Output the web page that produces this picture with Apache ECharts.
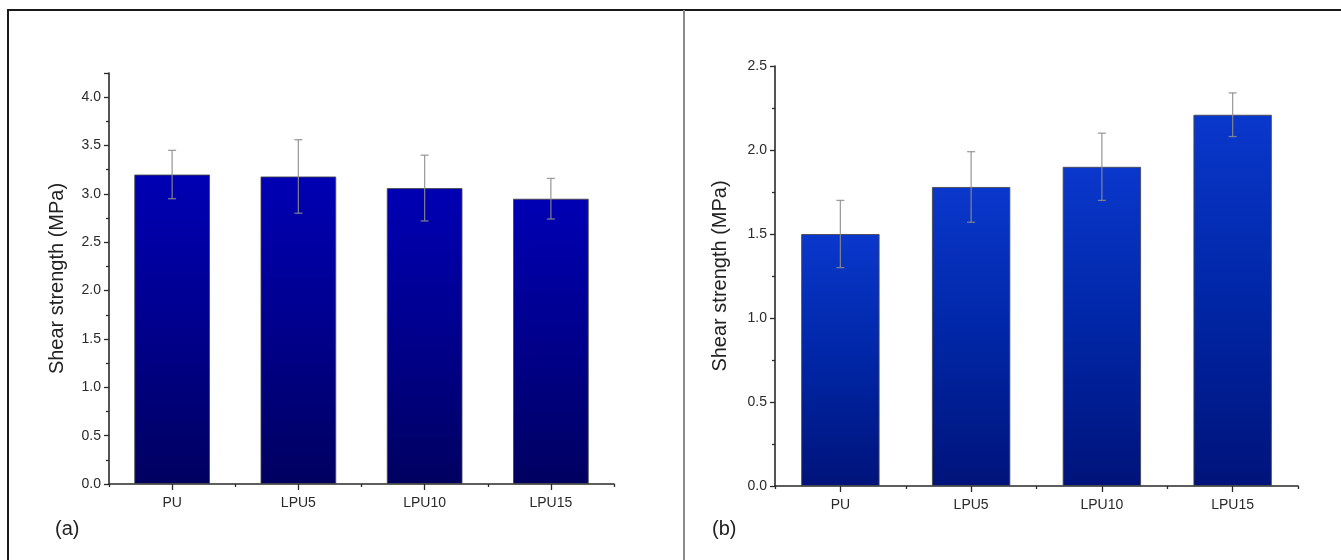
<!DOCTYPE html>
<html>
<head>
<meta charset="utf-8">
<script src="https://cdn.jsdelivr.net/npm/echarts@6/dist/echarts.min.js"></script>
<style>
  html, body { margin: 0; padding: 0; background: #fff; }
  #chart { width: 1341px; height: 560px; }
</style>
</head>
<body>
<div id="chart"></div>
<script>
// Samples shown on both panels
const categories = ['PU', 'LPU5', 'LPU10', 'LPU15'];

// Panel (a): mean shear strength and standard deviation (MPa)
const strengthA = [3.20, 3.18, 3.06, 2.95];
const errorA = [0.25, 0.38, 0.34, 0.21];

// Panel (b): mean shear strength and standard deviation (MPa)
const strengthB = [1.50, 1.78, 1.90, 2.21];
const errorB = [0.20, 0.21, 0.20, 0.13];

const yTitle = 'Shear strength (MPa)';
const panelTags = ['(a)', '(b)'];

const FONT = '"Liberation Sans", Arial, sans-serif';

function barGradient(top, mid, bottom) {
  return new echarts.graphic.LinearGradient(0, 0, 0, 1, [
    { offset: 0, color: top },
    { offset: 0.5, color: mid },
    { offset: 1, color: bottom }
  ]);
}

function yAxisFor(gridIndex, max, gap) {
  return {
    type: 'value', gridIndex: gridIndex, min: 0, max: max, interval: 0.5,
    name: yTitle, nameLocation: 'middle', nameGap: gap, nameRotate: 90,
    nameTextStyle: { fontFamily: FONT, fontSize: 20, color: '#222' },
    axisLine: { show: true, lineStyle: { color: '#2a2a2a', width: 1.6 } },
    axisTick: { show: true, inside: false, length: 5, lineStyle: { color: '#2a2a2a', width: 1.3 } },
    minorTick: { show: true, splitNumber: 2, length: 3, lineStyle: { color: '#2a2a2a', width: 1.3 } },
    splitLine: { show: false },
    minorSplitLine: { show: false },
    axisLabel: {
      fontFamily: FONT, fontSize: 14, color: '#2a2a2a', margin: 8,
      formatter: function (v) {
        return Math.abs(v * 2 - Math.round(v * 2)) < 1e-6 ? v.toFixed(1) : '';
      }
    }
  };
}

function xAxesFor(gridIndex) {
  return [
    {
      type: 'category', gridIndex: gridIndex, data: categories,
      axisLine: { show: true, lineStyle: { color: '#2a2a2a', width: 1.6 } },
      axisTick: { show: true, alignWithLabel: true, length: 6, lineStyle: { color: '#2a2a2a', width: 1.3 } },
      axisLabel: { fontFamily: FONT, fontSize: 14, color: '#2a2a2a', margin: 12 },
      splitLine: { show: false }
    },
    {
      // boundary ticks between the sample bands
      type: 'category', gridIndex: gridIndex, data: categories, position: 'bottom',
      axisLine: { show: false },
      axisTick: { show: true, length: 3, lineStyle: { color: '#2a2a2a', width: 1.3 } },
      axisLabel: { show: false },
      splitLine: { show: false }
    }
  ];
}

function barSeries(idx, values, color) {
  return {
    type: 'bar', xAxisIndex: idx * 2, yAxisIndex: idx, data: values,
    barWidth: '60%',
    itemStyle: { color: color, borderColor: 'rgba(70,70,70,0.85)', borderWidth: 1 },
    silent: true, z: 2
  };
}

function errorSeries(idx, values, errs) {
  return {
    type: 'custom', xAxisIndex: idx * 2, yAxisIndex: idx, z: 3, silent: true,
    data: values.map(function (v, i) { return [i, v - errs[i], v + errs[i]]; }),
    encode: { x: 0, y: [1, 2] },
    renderItem: function (params, api) {
      const lo = api.coord([api.value(0), api.value(1)]);
      const hi = api.coord([api.value(0), api.value(2)]);
      const cap = 4;
      const style = { stroke: 'rgba(140,140,140,0.85)', lineWidth: 1.3 };
      return {
        type: 'group',
        children: [
          { type: 'line', shape: { x1: lo[0], y1: lo[1], x2: hi[0], y2: hi[1] }, style: style },
          { type: 'line', shape: { x1: hi[0] - cap, y1: hi[1], x2: hi[0] + cap, y2: hi[1] }, style: style },
          { type: 'line', shape: { x1: lo[0] - cap, y1: lo[1], x2: lo[0] + cap, y2: lo[1] }, style: style }
        ]
      };
    }
  };
}

const chart = echarts.init(document.getElementById('chart'), null, { renderer: 'canvas' });

chart.setOption({
  backgroundColor: '#ffffff',
  animation: false,
  grid: [
    { left: 109, top: 73, width: 505, height: 411 },
    { left: 775, top: 66, width: 523, height: 420 }
  ],
  xAxis: xAxesFor(0).concat(xAxesFor(1)),
  yAxis: [yAxisFor(0, 4.25, 42), yAxisFor(1, 2.5, 45)],
  series: [
    barSeries(0, strengthA, barGradient('#0000b4', '#00008c', '#000060')),
    errorSeries(0, strengthA, errorA),
    barSeries(1, strengthB, barGradient('#0a38cc', '#0026a6', '#00137a')),
    errorSeries(1, strengthB, errorB)
  ],
  graphic: [
    // outer frame and panel divider
    { type: 'line', shape: { x1: 7, y1: 10, x2: 1341, y2: 10 }, style: { stroke: '#1a1a1a', lineWidth: 2 }, silent: true },
    { type: 'line', shape: { x1: 8, y1: 10, x2: 8, y2: 560 }, style: { stroke: '#1a1a1a', lineWidth: 2 }, silent: true },
    { type: 'line', shape: { x1: 684, y1: 10, x2: 684, y2: 560 }, style: { stroke: '#8a8a8a', lineWidth: 2 }, silent: true },
    // panel tags
    { type: 'text', left: 55, top: 519, style: { text: panelTags[0], font: '20px ' + FONT, fill: '#222' }, silent: true },
    { type: 'text', left: 712, top: 519, style: { text: panelTags[1], font: '20px ' + FONT, fill: '#222' }, silent: true }
  ]
});
</script>
</body>
</html>
